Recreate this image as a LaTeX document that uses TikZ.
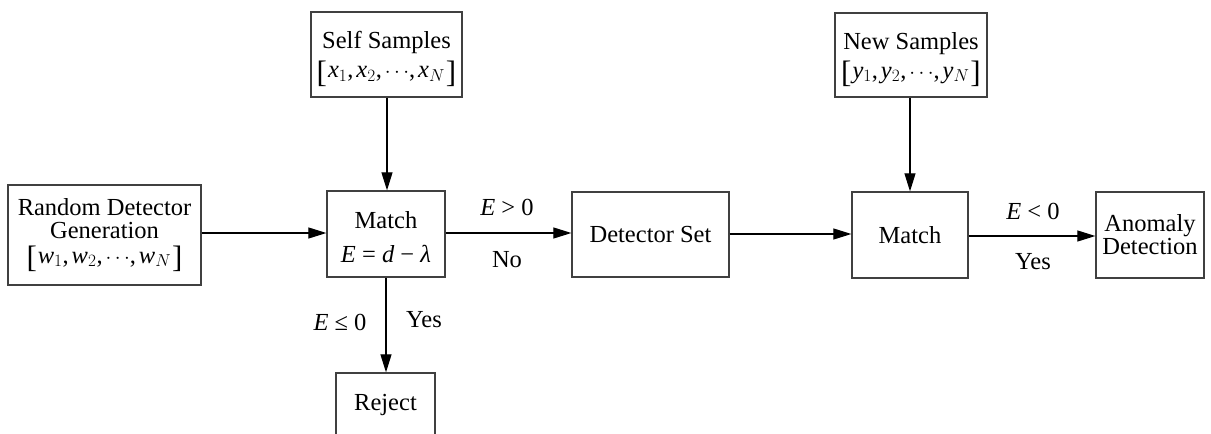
\documentclass[tikz,border=0pt]{standalone}
\usepackage{fontspec}
\setmainfont{Liberation Serif}
\usetikzlibrary{arrows.meta}
\newcommand{\vi}[1]{\textit{#1}}
\newcommand{\myvec}[1]{\vi{#1}$_1$,\kern3pt\vi{#1}$_2$,\kern3pt{\fontsize{20}{20}\selectfont$\cdots$},\kern3pt\vi{#1}$_N$}
\newcommand{\lb}{\raisebox{-0.18em}{\fontsize{31}{31}\selectfont[}\kern1pt}
\newcommand{\rb}{\kern1pt\raisebox{-0.18em}{\fontsize{31}{31}\selectfont]}}
\begin{document}
\begin{tikzpicture}[x=1pt,y=-1pt,
  box/.style={draw=black!75,line width=1.3pt,rectangle,align=center,inner sep=0pt,
    font=\fontsize{24.5}{23}\selectfont},
  lab/.style={font=\fontsize{24.5}{24}\selectfont,inner sep=0pt},
  conn/.style={line width=1.1pt,-{Triangle[length=18pt,width=11pt]}}]
\useasboundingbox[fill=white] (0,0) rectangle (1211,434);
\node[box,minimum width=193pt,minimum height=100pt] (rnd) at (104.5,235)
  {Random Detector\\Generation\\[2pt]\lb\myvec{w}\rb};
\node[box,minimum width=118pt,minimum height=86pt] (m1) at (386,234)
  {\rule{0pt}{24pt}Match\\[11pt]\vi{E} = \vi{d} − \vi{λ}};
\node[box,minimum width=151pt,minimum height=85pt] (self) at (386.5,54.5)
  {\rule{0pt}{26pt}Self Samples\\[6pt]\lb\myvec{x}\rb};
\node[box,minimum width=99pt,minimum height=64pt] (rej) at (385.5,405) {Reject};
\node[box,minimum width=157pt,minimum height=85pt] (det) at (650.5,234.5) {Detector Set};
\node[box,minimum width=116pt,minimum height=86pt] (m2) at (910,235) {Match};
\node[box,minimum width=108pt,minimum height=86pt] (ano) at (1150,235)
  {\fontsize{24.5}{21}\selectfont Anomaly\\Detection};
\node[box,minimum width=152pt,minimum height=84pt] (new) at (911,55)
  {\rule{0pt}{26pt}New Samples\\[6pt]\lb\myvec{y}\rb};
\draw[conn] (rnd.east |- 0,233) -- (m1.west |- 0,233);
\draw[conn] (self.south -| 387,0) -- (m1.north -| 387,0);
\draw[conn] (m1.east |- 0,233) -- (det.west |- 0,233);
\draw[conn] (det.east |- 0,234) -- (m2.west |- 0,234);
\draw[conn] (new.south -| 910,0) -- (m2.north -| 910,0);
\draw[conn] (m2.east |- 0,236) -- (ano.west |- 0,236);
\draw[conn] (m1.south -| 386,0) -- (rej.north -| 386,0);
\node[lab] (l1) at (507,207) {\vi{E} \textgreater{} 0};
\node[lab] (l2) at (507,260) {No};
\node[lab] (l3) at (1033,211) {\vi{E} \textless{} 0};
\node[lab] (l4) at (1033,262) {Yes};
\node[lab] (l5) at (340,322) {\vi{E} ≤ 0};
\node[lab] (l6) at (424,320) {Yes};
\end{tikzpicture}
\end{document}
